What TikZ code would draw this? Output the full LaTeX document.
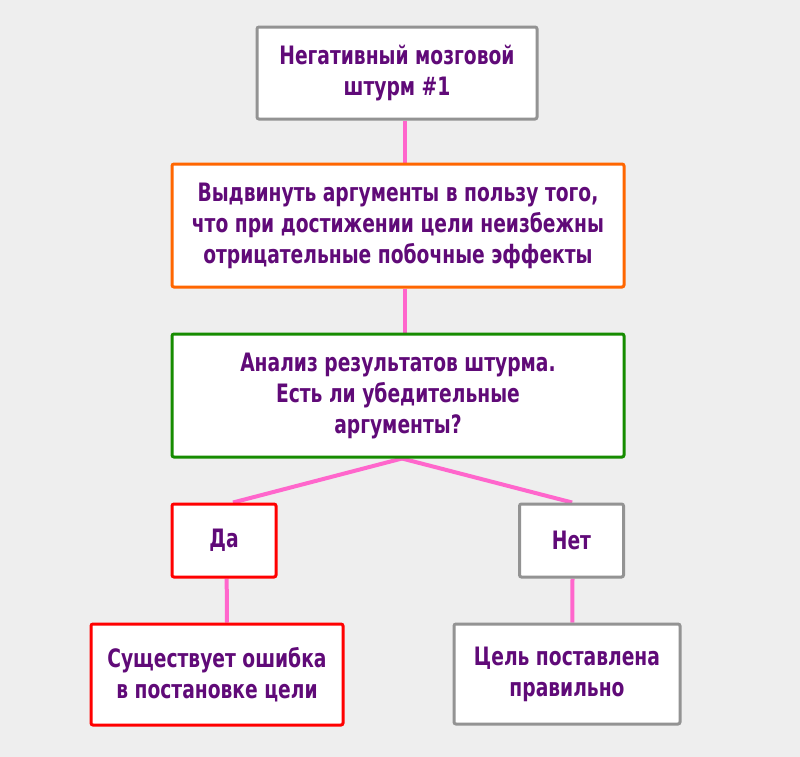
\documentclass[tikz,border=0pt]{standalone}
\usepackage{fontspec}
\setmainfont[FakeStretch=0.82]{DejaVu Sans Condensed}
\usetikzlibrary{backgrounds}
\definecolor{bg}{RGB}{238,238,238}
\definecolor{txt}{RGB}{96,10,120}
\definecolor{bgray}{RGB}{147,147,147}
\definecolor{borange}{RGB}{255,102,0}
\definecolor{bgreen}{RGB}{22,140,0}
\definecolor{bred}{RGB}{255,0,0}
\definecolor{conn}{RGB}{255,102,204}
\tikzset{
  box/.style={draw, fill=white, line width=2.25pt, rounded corners=1.5pt,
    align=center, text=txt, font=\bfseries\fontsize{19}{23.25}\selectfont,
    inner sep=0pt},
  link/.style={draw=conn, line width=3pt}
}
\begin{document}
\begin{tikzpicture}[x=0.75pt,y=-0.75pt]
\useasboundingbox (0,0) rectangle (800,757);
\node[box, draw=bgray, minimum width=210pt, minimum height=69pt] (b1) at (397,73)
  {Негативный мозговой\\штурм \#1};
\node[box, draw=borange, minimum width=339pt, minimum height=92.25pt] (b2) at (398,225.5)
  {Выдвинуть аргументы в пользу того,\\что при достижении цели неизбежны\\отрицательные побочные эффекты};
\node[box, draw=bgreen, minimum width=339pt, minimum height=92.25pt] (b3) at (398,395.5)
  {Анализ результатов штурма.\\Есть ли убедительные\\аргументы?};
\node[box, draw=bred, minimum width=78pt, minimum height=54.75pt] (da) at (224,540.5) {Да};
\node[box, draw=bgray, minimum width=78pt, minimum height=54.75pt] (net) at (571.5,540.5) {Нет};
\node[box, draw=bred, minimum width=189pt, minimum height=75.75pt] (bl) at (217,674.5)
  {Существует ошибка\\в постановке цели};
\node[box, draw=bgray, minimum width=169.5pt, minimum height=75pt] (br) at (567,674)
  {Цель поставлена\\правильно};
\begin{scope}[on background layer]
\fill[bg] (0,0) rectangle (800,757);
\draw[link] ([xshift=6pt]b1.south) -- ([xshift=5.25pt]b2.north);
\draw[link] ([xshift=5.25pt]b2.south) -- ([xshift=5.25pt]b3.north);
\draw[link] ([xshift=3pt]b3.south) -- ([xshift=6.75pt]da.north);
\draw[link] ([xshift=3pt]b3.south) -- ([xshift=0.5pt]net.north);
\draw[link] ([xshift=2pt]da.south) -- ([xshift=7.5pt]bl.north);
\draw[link] ([xshift=0.75pt]net.south) -- ([xshift=4pt]br.north);
\end{scope}
\end{tikzpicture}
\end{document}
